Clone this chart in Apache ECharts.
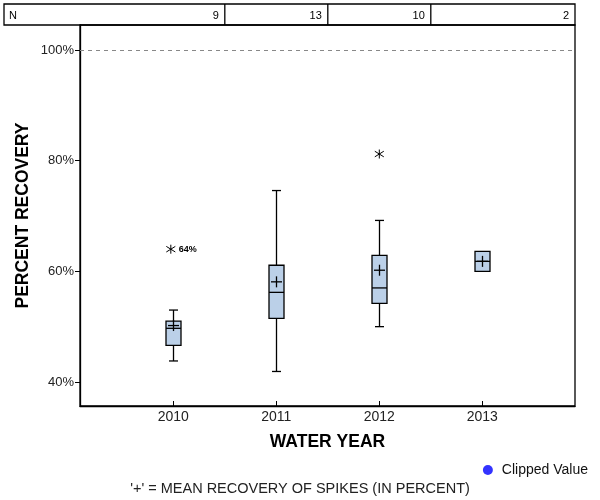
<!DOCTYPE html>
<html><head><meta charset="utf-8">
<script src="https://cdn.jsdelivr.net/npm/echarts@6/dist/echarts.min.js"></script>
<style>html,body{margin:0;padding:0;background:#fff}#c{width:600px;height:500px}</style>
</head><body><div id="c"></div>
<script>
var years = [2010, 2011, 2012, 2013];
var nCounts = [9, 13, 10, 2];
var whiskerLow  = [43.8, 41.9, 50.0, 60.0];
var q1          = [46.6, 51.5, 54.2, 60.0];
var median      = [49.7, 56.2, 57.0, 61.8];
var q3          = [51.0, 61.1, 62.9, 63.6];
var whiskerHigh = [53.0, 74.6, 69.2, 63.6];
var means       = [50.2, 58.1, 60.2, 61.8];
var outlierYears  = [2010, 2012];
var outlierValues = [64.0, 81.2];
var outlierLabels = ['64%', ''];
var yTicks = [40, 60, 80, 100];

var FONT = 'Liberation Sans, Arial, sans-serif';
var boxData = years.map(function (y, i) {
  return [y, whiskerLow[i], q1[i], median[i], q3[i], whiskerHigh[i], means[i]];
});
var outData = outlierYears.map(function (y, i) { return [y, outlierValues[i], outlierLabels[i]]; });

function renderBox(params, api) {
  var x = api.value(0);
  var pLow = api.coord([x, api.value(1)]);
  var pQ1 = api.coord([x, api.value(2)]);
  var pMed = api.coord([x, api.value(3)]);
  var pQ3 = api.coord([x, api.value(4)]);
  var pHigh = api.coord([x, api.value(5)]);
  var pMean = api.coord([x, api.value(6)]);
  var cx = Math.round(pMed[0]) + 0.5;
  var hw = 7.5, cap = 4.5, mc = 5.5;
  var ls = { stroke: '#000', lineWidth: 1.3 };
  var ch = [];
  if (api.value(5) > api.value(4)) {
    ch.push({ type: 'line', shape: { x1: cx, y1: pQ3[1], x2: cx, y2: pHigh[1] }, style: ls });
    ch.push({ type: 'line', shape: { x1: cx - cap, y1: pHigh[1], x2: cx + cap, y2: pHigh[1] }, style: ls });
  }
  if (api.value(1) < api.value(2)) {
    ch.push({ type: 'line', shape: { x1: cx, y1: pQ1[1], x2: cx, y2: pLow[1] }, style: ls });
    ch.push({ type: 'line', shape: { x1: cx - cap, y1: pLow[1], x2: cx + cap, y2: pLow[1] }, style: ls });
  }
  ch.push({ type: 'rect', shape: { x: cx - hw, y: pQ3[1], width: 2 * hw, height: pQ1[1] - pQ3[1] },
            style: { fill: '#BBD0E8', stroke: '#000', lineWidth: 1.3 } });
  ch.push({ type: 'line', shape: { x1: cx - hw, y1: pMed[1], x2: cx + hw, y2: pMed[1] }, style: ls });
  ch.push({ type: 'line', shape: { x1: cx - mc, y1: pMean[1], x2: cx + mc, y2: pMean[1] }, style: ls });
  ch.push({ type: 'line', shape: { x1: cx, y1: pMean[1] - mc, x2: cx, y2: pMean[1] + mc }, style: ls });
  return { type: 'group', children: ch };
}

function renderStar(params, api) {
  var p = api.coord([api.value(0), api.value(1)]);
  var lab = api.value(2);
  var cx = p[0] + (lab ? -2.5 : 0), cy = p[1];
  var r = 4.5, dx = 4.5, dy = 2.8;
  var ls = { stroke: '#000', lineWidth: 1 };
  var ch = [
    { type: 'line', shape: { x1: cx, y1: cy - r, x2: cx, y2: cy + r }, style: ls },
    { type: 'line', shape: { x1: cx - dx, y1: cy - dy, x2: cx + dx, y2: cy + dy }, style: ls },
    { type: 'line', shape: { x1: cx - dx, y1: cy + dy, x2: cx + dx, y2: cy - dy }, style: ls }
  ];
  if (lab) {
    ch.push({ type: 'text', style: { text: lab, x: cx + 8, y: cy + 0.5, fill: '#000',
      font: 'bold 9px ' + FONT, verticalAlign: 'middle', align: 'left' } });
  }
  return { type: 'group', children: ch };
}

var chart = echarts.init(document.getElementById('c'), null, { renderer: 'canvas' });
var option = {
  animation: false,
  backgroundColor: '#fff',
  grid: { left: 80, right: 25, top: 25, bottom: 94, show: true, borderColor: '#000', borderWidth: 1.3, containLabel: false },
  legend: {
    right: 7, top: 458, itemWidth: 10, itemHeight: 10, icon: 'circle', itemGap: 6,
    itemStyle: { borderWidth: 0 },
    textStyle: { fontFamily: FONT, fontSize: 14, color: '#111', padding: [0, 0, 0, 4] },
    data: ['Clipped Value']
  },
  xAxis: {
    type: 'value', min: 2009.094, max: 2013.9,
    name: 'WATER YEAR', nameLocation: 'middle', nameGap: 27,
    nameTextStyle: { fontFamily: FONT, fontSize: 17.5, fontWeight: 'bold', color: '#000' },
    axisLine: { show: true, lineStyle: { color: '#000', width: 1.3 } },
    axisTick: { show: true, inside: true, length: 5, customValues: years, lineStyle: { color: '#000' } },
    axisLabel: { customValues: years, margin: 4, fontFamily: FONT, fontSize: 14, color: '#222',
      formatter: function (v) { return String(v); } },
    splitLine: { show: false }
  },
  yAxis: {
    type: 'value', min: 35.66, max: 104.52,
    name: 'PERCENT RECOVERY', nameLocation: 'middle', nameGap: 48, nameRotate: 90,
    nameMoveOverlap: false,
    nameTextStyle: { fontFamily: FONT, fontSize: 17.5, fontWeight: 'bold', color: '#000' },
    axisLine: { show: true, lineStyle: { color: '#000', width: 1.3 } },
    axisTick: { show: true, inside: false, length: 5, customValues: yTicks, lineStyle: { color: '#000' } },
    axisLabel: { customValues: yTicks, margin: 6, fontFamily: FONT, fontSize: 13, color: '#222',
      formatter: function (v) { return v + '%'; } },
    splitLine: { show: false }
  },
  series: [
    { type: 'custom', name: 'box', renderItem: renderBox, data: boxData, encode: { x: 0, y: [1, 5] }, z: 3,
      markLine: { silent: true, symbol: 'none', label: { show: false },
        lineStyle: { color: '#888', type: [4, 4], width: 1 }, data: [{ yAxis: 100 }] } },
    { type: 'custom', name: 'outliers', renderItem: renderStar, data: outData, encode: { x: 0, y: 1 }, z: 4 },
    { type: 'scatter', name: 'Clipped Value', data: [], itemStyle: { color: '#0000FF' } }
  ],
  graphic: [
    { type: 'text', left: 'center', top: 481, style: { text: "'+' = MEAN RECOVERY OF SPIKES (IN PERCENT)",
      font: '14.5px ' + FONT, fill: '#222' } }
  ]
};
chart.setOption(option);

// N table above the plot, column borders at midpoints between categories
var gridRight = 575, tTop = 4, tBot = 25;
var g = [];
g.push({ type: 'rect', shape: { x: 4, y: tTop, width: gridRight - 4, height: tBot - tTop },
  style: { fill: 'none', stroke: '#000', lineWidth: 1.3 } });
g.push({ type: 'text', style: { text: 'N', x: 9, y: (tTop + tBot) / 2 + 1, font: '11px ' + FONT, fill: '#000', verticalAlign: 'middle' } });
for (var i = 0; i < years.length; i++) {
  var right;
  if (i < years.length - 1) {
    right = chart.convertToPixel({ gridIndex: 0 }, [(years[i] + years[i + 1]) / 2, 50])[0];
    g.push({ type: 'line', shape: { x1: right, y1: tTop, x2: right, y2: tBot }, style: { stroke: '#000', lineWidth: 1.3 } });
  } else {
    right = gridRight;
  }
  g.push({ type: 'text', style: { text: String(nCounts[i]), x: right - 6, y: (tTop + tBot) / 2 + 1,
    font: '11px ' + FONT, fill: '#000', align: 'right', verticalAlign: 'middle' } });
}
option.graphic = option.graphic.concat(g);
chart.setOption({ graphic: option.graphic });
</script>
</body></html>
